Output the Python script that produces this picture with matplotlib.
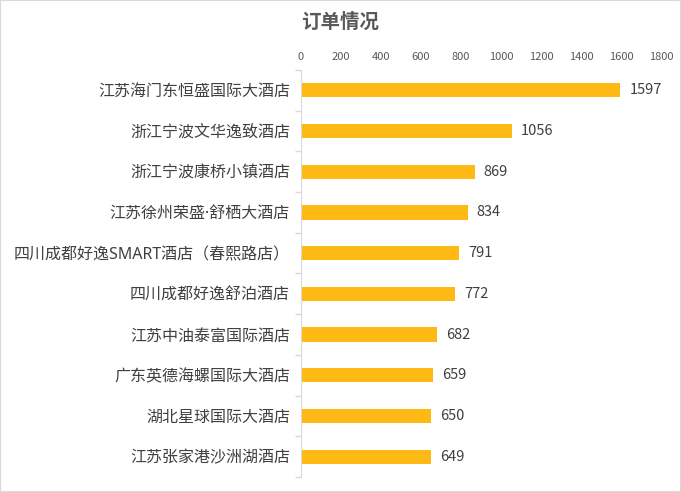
import matplotlib
matplotlib.use("Agg")
import matplotlib.pyplot as plt
import numpy as np

plt.rcParams['font.family'] = ['Noto Sans CJK SC', 'DejaVu Sans']

# data
hotels = ["江苏海门东恒盛国际大酒店", "浙江宁波文华逸致酒店", "浙江宁波康桥小镇酒店",
          "江苏徐州荣盛·舒栖大酒店", "四川成都好逸SMART酒店（春熙路店）", "四川成都好逸舒泊酒店",
          "江苏中油泰富国际酒店", "广东英德海螺国际大酒店", "湖北星球国际大酒店",
          "江苏张家港沙洲湖酒店"]
orders = [1597, 1056, 869, 834, 791, 772, 682, 659, 650, 649]
ticks = [0, 200, 400, 600, 800, 1000, 1200, 1400, 1600, 1800]

fig = plt.figure(figsize=(6.81, 4.92), dpi=100)
ax = fig.add_axes([301/681, 15/492, 360/681, 407/492])

y = np.arange(len(hotels))
ax.barh(y, orders, height=0.35, color='#FFB914')
ax.set_ylim(len(hotels) - 0.5, -0.5)
ax.set_xlim(0, 1800)

for yi, v in zip(y, orders):
    ax.text(v + 45, yi, str(v), va='center', ha='left', fontsize=10.5, color='#404040')

ax.xaxis.tick_top()
ax.set_xticks(ticks)
ax.set_xticklabels([str(t) for t in ticks], fontsize=8, color='#595959')
ax.tick_params(axis='x', length=0, pad=6)

ax.set_yticks(y)
ax.set_yticklabels(hotels, fontsize=11.5, color='#404040',
                   family=['Noto Sans', 'Noto Sans CJK SC'])
ax.set_yticks(np.arange(len(hotels) + 1) - 0.5, minor=True)
ax.tick_params(axis='y', which='major', length=0, pad=8)
ax.tick_params(axis='y', which='minor', length=4, color='#D9D9D9', width=1)

for s in ['top', 'right', 'bottom']:
    ax.spines[s].set_visible(False)
ax.spines['left'].set_color('#D9D9D9')

fig.text(340/681, 1 - 22/492, "订单情况", ha='center', va='center',
         fontsize=14, fontweight='bold', color='#595959')

fig.patches.append(plt.Rectangle((0, 0), 1, 1, transform=fig.transFigure,
                                 fill=False, edgecolor='#D9D9D9', linewidth=1.5))

fig.savefig('out.png', dpi=100)
